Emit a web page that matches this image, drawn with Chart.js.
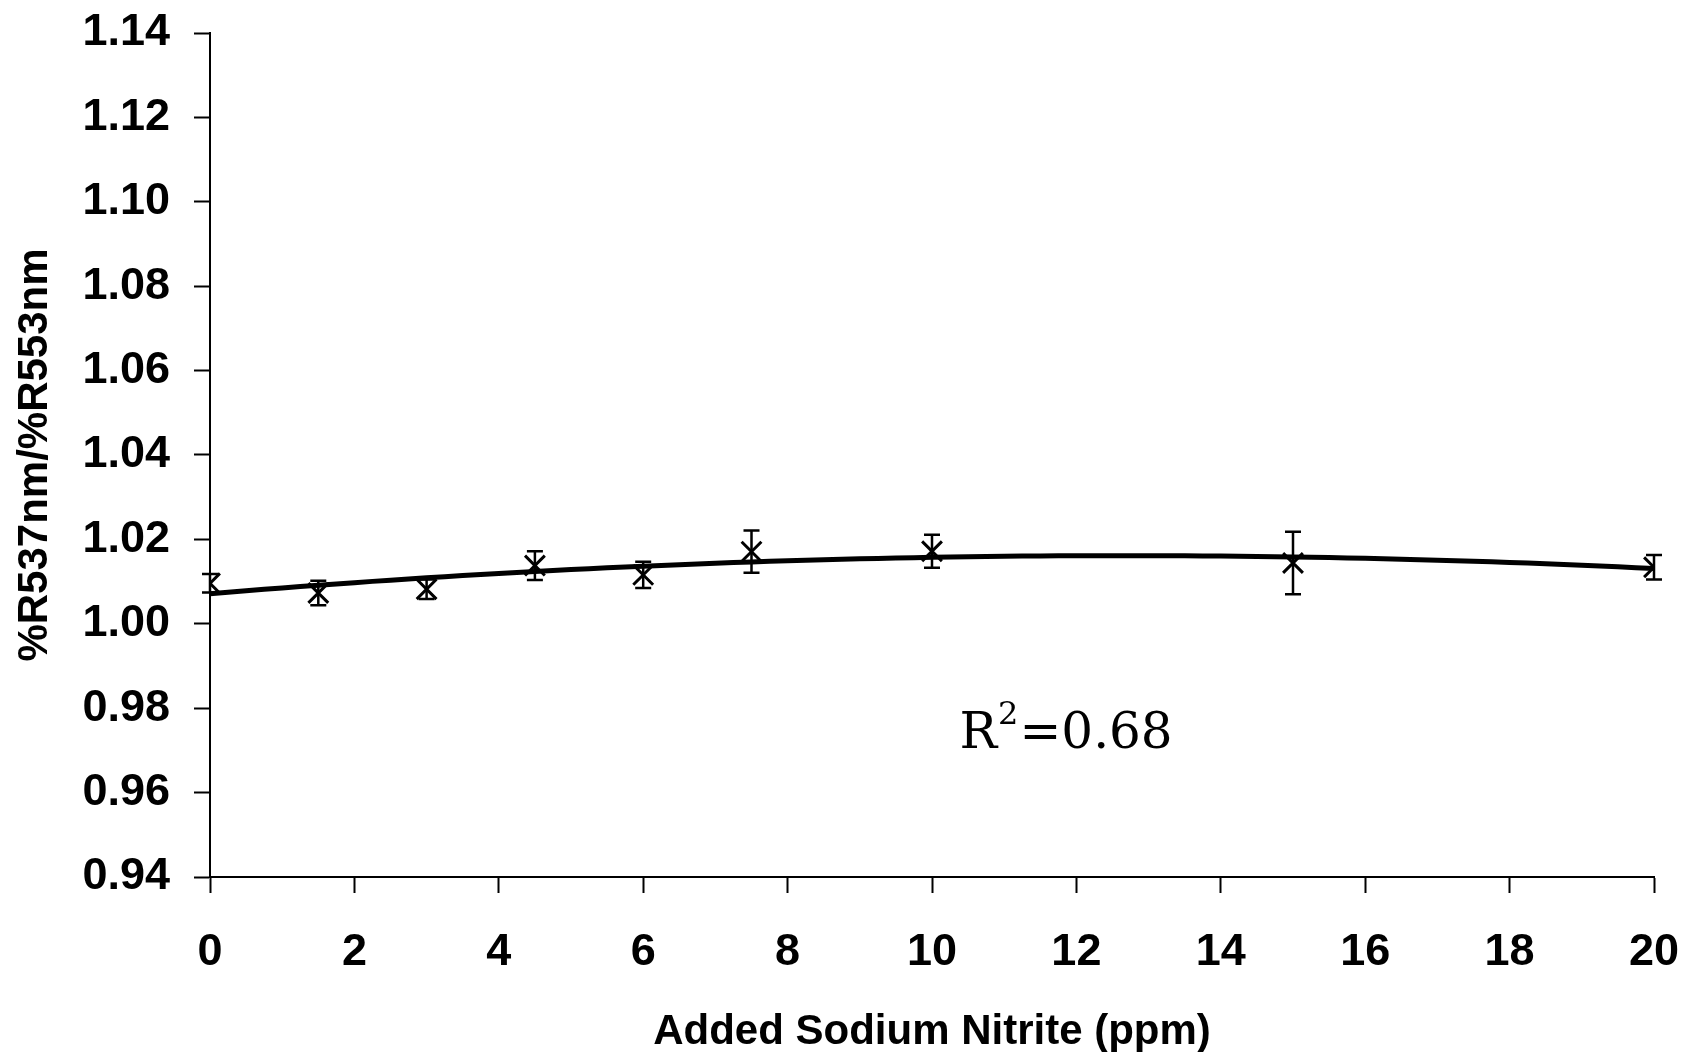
<!DOCTYPE html>
<html>
<head>
<meta charset="utf-8">
<script src="https://cdn.jsdelivr.net/npm/chart.js@4/dist/chart.umd.min.js"></script>
<style>
  html, body { margin: 0; padding: 0; background: #fff; }
  #wrap { width: 1686px; height: 1052px; }
</style>
</head>
<body>
<div id="wrap"><canvas id="nitrite-chart"></canvas></div>
<script>
// added nitrite (ppm) vs reflectance ratio, with SD error bars
var nitrite = [0, 1.5, 3, 4.5, 6, 7.5, 10, 15, 20];
var ratio   = [1.0096, 1.0073, 1.0082, 1.0138, 1.0116, 1.0171, 1.0172, 1.0144, 1.0134];
var sd      = [0.0022, 0.0029, 0.0023, 0.0034, 0.0031, 0.0050, 0.0039, 0.0074, 0.0029];
var yTicks  = [0.94, 0.96, 0.98, 1.00, 1.02, 1.04, 1.06, 1.08, 1.10, 1.12, 1.14];
var xTicks  = [0, 2, 4, 6, 8, 10, 12, 14, 16, 18, 20];

// 2nd order polynomial trend (least squares)
function polyFit2(xs, ys) {
    var s = [0, 0, 0, 0, 0], t = [0, 0, 0];
    for (var i = 0; i < xs.length; i++) {
        var p = 1;
        for (var k = 0; k < 5; k++) { s[k] += p; if (k < 3) t[k] += p * ys[i]; p *= xs[i]; }
    }
    var m = [[s[0], s[1], s[2], t[0]], [s[1], s[2], s[3], t[1]], [s[2], s[3], s[4], t[2]]];
    for (var c = 0; c < 3; c++) {
        for (var r = c + 1; r < 3; r++) {
            var f = m[r][c] / m[c][c];
            for (var j = c; j < 4; j++) m[r][j] -= f * m[c][j];
        }
    }
    var co = [0, 0, 0];
    for (var r2 = 2; r2 >= 0; r2--) {
        var v = m[r2][3];
        for (var j2 = r2 + 1; j2 < 3; j2++) v -= m[r2][j2] * co[j2];
        co[r2] = v / m[r2][r2];
    }
    return co;
}
var coef = polyFit2(nitrite, ratio);
var trend = [];
for (var x = 0; x <= 20.001; x += 0.25) {
    trend.push({ x: x, y: coef[0] + coef[1] * x + coef[2] * x * x });
}

var errorBars = {
    id: 'errorBars',
    afterDatasetsDraw: function(chart) {
        var ctx = chart.ctx, xs = chart.scales.x, ys = chart.scales.y;
        ctx.save();
        ctx.strokeStyle = '#000';
        ctx.lineWidth = 2.5;
        for (var i = 0; i < nitrite.length; i++) {
            var px = xs.getPixelForValue(nitrite[i]);
            var top = ys.getPixelForValue(ratio[i] + sd[i]);
            var bot = ys.getPixelForValue(ratio[i] - sd[i]);
            ctx.beginPath();
            ctx.moveTo(px, top); ctx.lineTo(px, bot);
            ctx.moveTo(px - 8, top); ctx.lineTo(px + 8, top);
            ctx.moveTo(px - 8, bot); ctx.lineTo(px + 8, bot);
            ctx.stroke();
        }
        ctx.restore();
    }
};

var rLabel = {
    id: 'rLabel',
    afterDraw: function(chart) {
        var ctx = chart.ctx;
        var px = chart.scales.x.getPixelForValue(10.38);
        var py = chart.scales.y.getPixelForValue(0.9706);
        ctx.save();
        ctx.fillStyle = '#000';
        ctx.textBaseline = 'alphabetic';
        ctx.font = '50px "DejaVu Serif"';
        ctx.fillText('R', px, py);
        var w = ctx.measureText('R').width;
        ctx.font = '32px "DejaVu Serif"';
        ctx.fillText('2', px + w + 1, py - 24);
        var w2 = ctx.measureText('2').width;
        ctx.font = '50px "DejaVu Serif"';
        ctx.fillText('=0.68', px + w + w2 + 2, py);
        ctx.restore();
    }
};

var ctx = document.getElementById('nitrite-chart').getContext('2d');
new Chart(ctx, {
    type: 'scatter',
    data: {
        datasets: [
        {
            label: 'trend',
            type: 'line',
            data: trend,
            borderColor: '#000',
            borderWidth: 5,
            pointRadius: 0,
            fill: false
        },
        {
            label: 'ratio',
            data: nitrite.map(function(v, i) { return { x: v, y: ratio[i] }; }),
            pointStyle: 'crossRot',
            pointRadius: 14,
            borderColor: '#000',
            borderWidth: 3
        }]
    },
    plugins: [errorBars, rLabel],
    options: {
        responsive: true,
        maintainAspectRatio: false,
        animation: false,
        layout: { padding: { top: 33, right: 32, left: 10, bottom: 0 } },
        plugins: {
            legend: { display: false },
            tooltip: { enabled: false }
        },
        scales: {
            x: {
                type: 'linear',
                min: 0, max: 20,
                afterBuildTicks: function(s) { s.ticks = xTicks.map(function(v) { return { value: v }; }); },
                afterFit: function(s) { s.height = 175; s.paddingLeft = 0; s.paddingRight = 0; },
                border: { color: '#000', width: 2 },
                grid: { drawOnChartArea: false, tickLength: 16, tickColor: '#000', tickWidth: 2 },
                ticks: {
                    color: '#000', padding: 33, maxRotation: 0,
                    font: { family: 'Liberation Sans, Arial', size: 45, weight: 'bold' }
                },
                title: {
                    display: true,
                    text: 'Added Sodium Nitrite (ppm)',
                    color: '#000',
                    padding: { top: 24, bottom: -6 },
                    font: { family: 'Liberation Sans, Arial', size: 42, weight: 'bold' }
                }
            },
            y: {
                min: 0.94, max: 1.14,
                afterBuildTicks: function(s) { s.ticks = yTicks.map(function(v) { return { value: v }; }); },
                afterFit: function(s) { s.width = 200; s.paddingTop = 0; s.paddingBottom = 0; },
                border: { color: '#000', width: 2 },
                grid: { drawOnChartArea: false, tickLength: 16, tickColor: '#000', tickWidth: 2 },
                ticks: {
                    color: '#000', padding: 24,
                    callback: function(v) { return v.toFixed(2); },
                    font: { family: 'Liberation Sans, Arial', size: 45, weight: 'bold' }
                },
                title: {
                    display: true,
                    text: '%R537nm/%R553nm',
                    color: '#000',
                    padding: { top: 0, bottom: 0 },
                    font: { family: 'Liberation Sans, Arial', size: 42, weight: 'bold' }
                }
            }
        }
    }
});
</script>
</body>
</html>
